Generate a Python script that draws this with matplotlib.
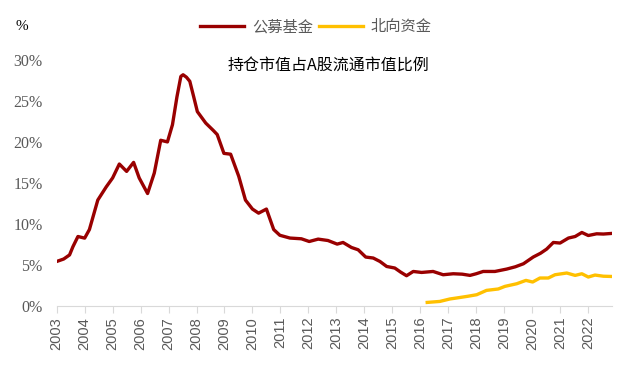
import matplotlib
matplotlib.use("Agg")
import matplotlib.pyplot as plt
import numpy as np

plt.rcParams['font.family'] = ['Noto Sans CJK SC', 'DejaVu Sans']

# 公募基金持仓占比 (year, %)
fund_t = [2003.0, 2003.25, 2003.46, 2003.58, 2003.76, 2004.0, 2004.17, 2004.47, 2004.77,
          2005.0, 2005.24, 2005.5, 2005.75, 2005.95, 2006.25, 2006.49, 2006.72, 2006.96,
          2007.14, 2007.3, 2007.44, 2007.52, 2007.64, 2007.76, 2007.9, 2008.03, 2008.33,
          2008.6, 2008.74, 2008.98, 2009.22, 2009.51, 2009.75, 2010.0, 2010.22, 2010.5,
          2010.76, 2010.98, 2011.34, 2011.75, 2012.03, 2012.35, 2012.7, 2013.03, 2013.24,
          2013.54, 2013.78, 2014.05, 2014.32, 2014.56, 2014.8, 2015.09, 2015.3, 2015.51,
          2015.75, 2016.05, 2016.46, 2016.82, 2017.18, 2017.5, 2017.78, 2018.0, 2018.25,
          2018.67, 2019.09, 2019.4, 2019.69, 2020.04, 2020.3, 2020.52, 2020.76, 2021.0,
          2021.3, 2021.54, 2021.78, 2022.01, 2022.31, 2022.55, 2022.83]
fund_v = [5.4, 5.7, 6.2, 7.2, 8.45, 8.25, 9.3, 12.9, 14.5,
          15.6, 17.3, 16.4, 17.5, 15.6, 13.7, 16.2, 20.2, 20.0,
          22.1, 25.5, 28.0, 28.2, 27.9, 27.4, 25.5, 23.7, 22.3,
          21.4, 20.9, 18.6, 18.5, 15.8, 12.9, 11.8, 11.3, 11.8,
          9.3, 8.6, 8.26, 8.17, 7.84, 8.13, 7.96, 7.52, 7.72,
          7.11, 6.83, 5.94, 5.82, 5.4, 4.79, 4.6, 4.1, 3.66,
          4.18, 4.06, 4.18, 3.78, 3.9, 3.85, 3.7, 3.9, 4.18,
          4.18, 4.47, 4.75, 5.12, 5.94, 6.4, 6.91, 7.72, 7.65,
          8.26, 8.45, 8.94, 8.57, 8.78, 8.75, 8.82]

# 北向资金持仓占比 (year, %)
north_t = [2016.25, 2016.7, 2017.06, 2017.3, 2017.7, 2018.02, 2018.37, 2018.79, 2019.03,
           2019.45, 2019.78, 2020.02, 2020.28, 2020.58, 2020.82, 2021.24, 2021.54, 2021.78,
           2022.01, 2022.25, 2022.55, 2022.83]
north_v = [0.4, 0.52, 0.82, 0.94, 1.15, 1.34, 1.87, 2.04, 2.36,
           2.68, 3.09, 2.89, 3.38, 3.38, 3.78, 3.99, 3.7, 3.9,
           3.5, 3.74, 3.6, 3.57]

years = list(range(2003, 2023))
y_ticks = [0, 5, 10, 15, 20, 25, 30]

fig = plt.figure(figsize=(6.23, 3.70), dpi=100)
ax = fig.add_axes([0.091, 0.1738, 0.891, 0.664])

ax.plot(fund_t, fund_v, color='#990000', lw=2.4, label='公募基金', solid_joinstyle='round')
ax.plot(north_t, north_v, color='#FFC000', lw=2.4, label='北向资金', solid_joinstyle='round')

ax.set_xlim(2003, 2022.85)
ax.set_ylim(0, 30)
ax.set_xticks(years)
ax.set_xticklabels([str(y) for y in years], rotation=90, fontsize=10.5, color='#595959',
                   family=['Liberation Sans', 'DejaVu Sans'])
ax.set_yticks(y_ticks)
ax.set_yticklabels([f'{v}%' for v in y_ticks], fontsize=11.5, color='#595959',
                   family=['Liberation Serif', 'DejaVu Serif'])

for s in ['top', 'right', 'left']:
    ax.spines[s].set_visible(False)
ax.spines['bottom'].set_color('#D9D9D9')
ax.tick_params(axis='x', direction='out', length=5, color='#D9D9D9', pad=3)
ax.tick_params(axis='y', length=0, pad=10)

fig.text(328 / 623, 1 - 65 / 370, '持仓市值占A股流通市值比例', ha='center', va='center',
         fontsize=11.5, color='black')
fig.text(22 / 623, 1 - 27 / 370, '%', ha='center', va='center', fontsize=11,
         color='black', family=['Liberation Serif', 'DejaVu Serif'])

fig.legend(loc='center', bbox_to_anchor=(316 / 623, 1 - 27 / 370), ncol=2, frameon=False,
           fontsize=11, labelcolor='#595959', handlelength=2.9, handletextpad=0.5,
           columnspacing=0.4)

fig.savefig('out.png', dpi=100)
